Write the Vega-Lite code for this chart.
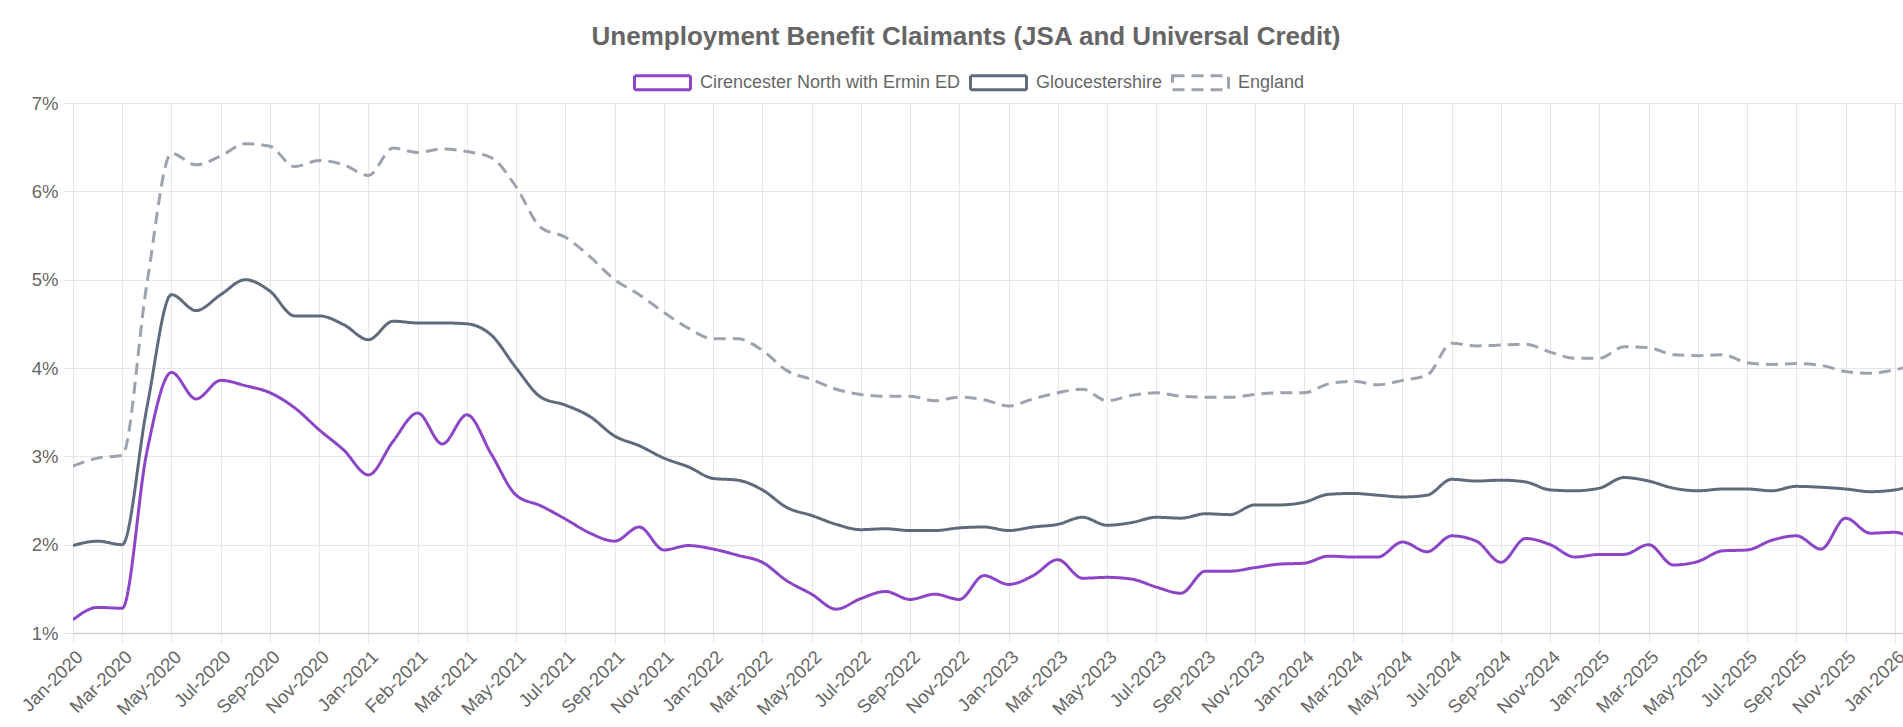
{
  "$schema": "https://vega.github.io/schema/vega-lite/v6.json",
  "width": 1830,
  "height": 530,
  "autosize": "none",
  "padding": {"left": 73, "top": 103, "right": 0, "bottom": 94},
  "background": "white",
  "title": {
    "text": "Unemployment Benefit Claimants (JSA and Universal Credit)",
    "fontSize": 26,
    "font": "Liberation Sans",
    "fontWeight": "bold",
    "color": "#666666",
    "anchor": "middle",
    "dx": -22,
    "offset": 3
  },
  "data": {
    "values": [
      {"month": "Jan-2020", "Cirencester North with Ermin ED": 1.15, "Gloucestershire": 1.99, "England": 2.89},
      {"month": "Feb-2020", "Cirencester North with Ermin ED": 1.29, "Gloucestershire": 2.04, "England": 2.98},
      {"month": "Mar-2020", "Cirencester North with Ermin ED": 1.28, "Gloucestershire": 2.00, "England": 3.01},
      {"month": "Apr-2020", "Cirencester North with Ermin ED": 3.05, "Gloucestershire": 3.55, "England": 4.95},
      {"month": "May-2020", "Cirencester North with Ermin ED": 3.95, "Gloucestershire": 4.83, "England": 6.43},
      {"month": "Jun-2020", "Cirencester North with Ermin ED": 3.65, "Gloucestershire": 4.65, "England": 6.30},
      {"month": "Jul-2020", "Cirencester North with Ermin ED": 3.86, "Gloucestershire": 4.83, "England": 6.40},
      {"month": "Aug-2020", "Cirencester North with Ermin ED": 3.80, "Gloucestershire": 5.00, "England": 6.54},
      {"month": "Sep-2020", "Cirencester North with Ermin ED": 3.72, "Gloucestershire": 4.87, "England": 6.51},
      {"month": "Oct-2020", "Cirencester North with Ermin ED": 3.55, "Gloucestershire": 4.59, "England": 6.28},
      {"month": "Nov-2020", "Cirencester North with Ermin ED": 3.30, "Gloucestershire": 4.59, "England": 6.35},
      {"month": "Dec-2020", "Cirencester North with Ermin ED": 3.07, "Gloucestershire": 4.49, "England": 6.30},
      {"month": "Jan-2021", "Cirencester North with Ermin ED": 2.79, "Gloucestershire": 4.32, "England": 6.18},
      {"month": "Jan-2021 (2)", "Cirencester North with Ermin ED": 3.17, "Gloucestershire": 4.53, "England": 6.49},
      {"month": "Feb-2021", "Cirencester North with Ermin ED": 3.49, "Gloucestershire": 4.51, "England": 6.44},
      {"month": "Feb-2021 (2)", "Cirencester North with Ermin ED": 3.14, "Gloucestershire": 4.51, "England": 6.48},
      {"month": "Mar-2021", "Cirencester North with Ermin ED": 3.47, "Gloucestershire": 4.50, "England": 6.45},
      {"month": "Apr-2021", "Cirencester North with Ermin ED": 3.02, "Gloucestershire": 4.37, "England": 6.38},
      {"month": "May-2021", "Cirencester North with Ermin ED": 2.56, "Gloucestershire": 4.00, "England": 6.05},
      {"month": "Jun-2021", "Cirencester North with Ermin ED": 2.44, "Gloucestershire": 3.67, "England": 5.59},
      {"month": "Jul-2021", "Cirencester North with Ermin ED": 2.29, "Gloucestershire": 3.58, "England": 5.48},
      {"month": "Aug-2021", "Cirencester North with Ermin ED": 2.13, "Gloucestershire": 3.45, "England": 5.26},
      {"month": "Sep-2021", "Cirencester North with Ermin ED": 2.04, "Gloucestershire": 3.23, "England": 5.00},
      {"month": "Oct-2021", "Cirencester North with Ermin ED": 2.20, "Gloucestershire": 3.12, "England": 4.83},
      {"month": "Nov-2021", "Cirencester North with Ermin ED": 1.94, "Gloucestershire": 2.98, "England": 4.63},
      {"month": "Dec-2021", "Cirencester North with Ermin ED": 1.99, "Gloucestershire": 2.88, "England": 4.45},
      {"month": "Jan-2022", "Cirencester North with Ermin ED": 1.95, "Gloucestershire": 2.75, "England": 4.33},
      {"month": "Feb-2022", "Cirencester North with Ermin ED": 1.88, "Gloucestershire": 2.73, "England": 4.33},
      {"month": "Mar-2022", "Cirencester North with Ermin ED": 1.80, "Gloucestershire": 2.62, "England": 4.20},
      {"month": "Apr-2022", "Cirencester North with Ermin ED": 1.59, "Gloucestershire": 2.42, "England": 3.97},
      {"month": "May-2022", "Cirencester North with Ermin ED": 1.44, "Gloucestershire": 2.33, "England": 3.87},
      {"month": "Jun-2022", "Cirencester North with Ermin ED": 1.27, "Gloucestershire": 2.23, "England": 3.76},
      {"month": "Jul-2022", "Cirencester North with Ermin ED": 1.39, "Gloucestershire": 2.17, "England": 3.70},
      {"month": "Aug-2022", "Cirencester North with Ermin ED": 1.47, "Gloucestershire": 2.18, "England": 3.68},
      {"month": "Sep-2022", "Cirencester North with Ermin ED": 1.38, "Gloucestershire": 2.16, "England": 3.68},
      {"month": "Oct-2022", "Cirencester North with Ermin ED": 1.44, "Gloucestershire": 2.16, "England": 3.63},
      {"month": "Nov-2022", "Cirencester North with Ermin ED": 1.38, "Gloucestershire": 2.19, "England": 3.67},
      {"month": "Dec-2022", "Cirencester North with Ermin ED": 1.65, "Gloucestershire": 2.20, "England": 3.64},
      {"month": "Jan-2023", "Cirencester North with Ermin ED": 1.55, "Gloucestershire": 2.16, "England": 3.57},
      {"month": "Feb-2023", "Cirencester North with Ermin ED": 1.65, "Gloucestershire": 2.20, "England": 3.65},
      {"month": "Mar-2023", "Cirencester North with Ermin ED": 1.83, "Gloucestershire": 2.23, "England": 3.72},
      {"month": "Apr-2023", "Cirencester North with Ermin ED": 1.62, "Gloucestershire": 2.31, "England": 3.76},
      {"month": "May-2023", "Cirencester North with Ermin ED": 1.63, "Gloucestershire": 2.22, "England": 3.63},
      {"month": "Jun-2023", "Cirencester North with Ermin ED": 1.61, "Gloucestershire": 2.25, "England": 3.69},
      {"month": "Jul-2023", "Cirencester North with Ermin ED": 1.52, "Gloucestershire": 2.31, "England": 3.72},
      {"month": "Aug-2023", "Cirencester North with Ermin ED": 1.45, "Gloucestershire": 2.30, "England": 3.68},
      {"month": "Sep-2023", "Cirencester North with Ermin ED": 1.70, "Gloucestershire": 2.35, "England": 3.67},
      {"month": "Oct-2023", "Cirencester North with Ermin ED": 1.70, "Gloucestershire": 2.34, "England": 3.67},
      {"month": "Nov-2023", "Cirencester North with Ermin ED": 1.74, "Gloucestershire": 2.45, "England": 3.70},
      {"month": "Dec-2023", "Cirencester North with Ermin ED": 1.78, "Gloucestershire": 2.45, "England": 3.72},
      {"month": "Jan-2024", "Cirencester North with Ermin ED": 1.79, "Gloucestershire": 2.48, "England": 3.72},
      {"month": "Feb-2024", "Cirencester North with Ermin ED": 1.87, "Gloucestershire": 2.57, "England": 3.82},
      {"month": "Mar-2024", "Cirencester North with Ermin ED": 1.86, "Gloucestershire": 2.58, "England": 3.85},
      {"month": "Apr-2024", "Cirencester North with Ermin ED": 1.86, "Gloucestershire": 2.56, "England": 3.81},
      {"month": "May-2024", "Cirencester North with Ermin ED": 2.03, "Gloucestershire": 2.54, "England": 3.86},
      {"month": "Jun-2024", "Cirencester North with Ermin ED": 1.92, "Gloucestershire": 2.56, "England": 3.92},
      {"month": "Jul-2024", "Cirencester North with Ermin ED": 2.10, "Gloucestershire": 2.74, "England": 4.28},
      {"month": "Aug-2024", "Cirencester North with Ermin ED": 2.04, "Gloucestershire": 2.72, "England": 4.25},
      {"month": "Sep-2024", "Cirencester North with Ermin ED": 1.80, "Gloucestershire": 2.73, "England": 4.26},
      {"month": "Oct-2024", "Cirencester North with Ermin ED": 2.07, "Gloucestershire": 2.71, "England": 4.27},
      {"month": "Nov-2024", "Cirencester North with Ermin ED": 2.00, "Gloucestershire": 2.62, "England": 4.18},
      {"month": "Dec-2024", "Cirencester North with Ermin ED": 1.86, "Gloucestershire": 2.61, "England": 4.11},
      {"month": "Jan-2025", "Cirencester North with Ermin ED": 1.89, "Gloucestershire": 2.64, "England": 4.11},
      {"month": "Feb-2025", "Cirencester North with Ermin ED": 1.89, "Gloucestershire": 2.76, "England": 4.24},
      {"month": "Mar-2025", "Cirencester North with Ermin ED": 2.00, "Gloucestershire": 2.72, "England": 4.23},
      {"month": "Apr-2025", "Cirencester North with Ermin ED": 1.77, "Gloucestershire": 2.64, "England": 4.15},
      {"month": "May-2025", "Cirencester North with Ermin ED": 1.81, "Gloucestershire": 2.61, "England": 4.14},
      {"month": "Jun-2025", "Cirencester North with Ermin ED": 1.93, "Gloucestershire": 2.63, "England": 4.15},
      {"month": "Jul-2025", "Cirencester North with Ermin ED": 1.94, "Gloucestershire": 2.63, "England": 4.06},
      {"month": "Aug-2025", "Cirencester North with Ermin ED": 2.05, "Gloucestershire": 2.61, "England": 4.04},
      {"month": "Sep-2025", "Cirencester North with Ermin ED": 2.10, "Gloucestershire": 2.66, "England": 4.05},
      {"month": "Oct-2025", "Cirencester North with Ermin ED": 1.95, "Gloucestershire": 2.65, "England": 4.03},
      {"month": "Nov-2025", "Cirencester North with Ermin ED": 2.30, "Gloucestershire": 2.63, "England": 3.96},
      {"month": "Dec-2025", "Cirencester North with Ermin ED": 2.13, "Gloucestershire": 2.60, "England": 3.94},
      {"month": "Jan-2026", "Cirencester North with Ermin ED": 2.14, "Gloucestershire": 2.62, "England": 3.98},
      {"month": "Feb-2026", "Cirencester North with Ermin ED": 2.00, "Gloucestershire": 2.70, "England": 4.05}
    ]
  },
  "transform": [
    {"fold": ["Cirencester North with Ermin ED", "Gloucestershire", "England"], "as": ["series", "value"]}
  ],
  "mark": {"type": "line", "interpolate": "monotone", "strokeWidth": 3, "clip": true},
  "encoding": {
    "x": {
      "field": "month",
      "type": "ordinal",
      "sort": null,
      "scale": {"type": "point", "padding": 0, "range": [0, 1846.5]},
      "axis": {
        "values": ["Jan-2020", "Mar-2020", "May-2020", "Jul-2020", "Sep-2020", "Nov-2020", "Jan-2021", "Feb-2021", "Mar-2021", "May-2021", "Jul-2021", "Sep-2021", "Nov-2021", "Jan-2022", "Mar-2022", "May-2022", "Jul-2022", "Sep-2022", "Nov-2022", "Jan-2023", "Mar-2023", "May-2023", "Jul-2023", "Sep-2023", "Nov-2023", "Jan-2024", "Mar-2024", "May-2024", "Jul-2024", "Sep-2024", "Nov-2024", "Jan-2025", "Mar-2025", "May-2025", "Jul-2025", "Sep-2025", "Nov-2025", "Jan-2026"],
        "title": null,
        "labelAngle": -45,
        "labelFont": "Liberation Sans",
        "labelFontSize": 18.5,
        "labelColor": "#666666",
        "labelOverlap": false,
        "labelPadding": 4,
        "labelDx": -4,
        "grid": true,
        "gridColor": "#e6e6e6",
        "tickColor": "#e6e6e6",
        "tickSize": 10,
        "domainColor": "#d0d0d0",
        "domainWidth": 1.5
      }
    },
    "y": {
      "field": "value",
      "type": "quantitative",
      "scale": {"domain": [1, 7], "nice": false, "zero": false},
      "axis": {
        "values": [1, 2, 3, 4, 5, 6, 7],
        "labelExpr": "datum.value + '%'",
        "title": null,
        "labelFont": "Liberation Sans",
        "labelFontSize": 18.5,
        "labelColor": "#666666",
        "labelPadding": 5,
        "grid": true,
        "gridColor": "#e6e6e6",
        "tickColor": "#e6e6e6",
        "tickSize": 10,
        "domainColor": "#e6e6e6"
      }
    },
    "color": {
      "field": "series",
      "type": "nominal",
      "scale": {
        "domain": ["Cirencester North with Ermin ED", "Gloucestershire", "England"],
        "range": ["#8b45c6", "#5f6b7c", "#9ca3af"]
      },
      "legend": {
        "orient": "none",
        "legendX": 560,
        "legendY": -50,
        "direction": "horizontal",
        "title": null,
        "symbolType": "M-1,-0.25H1V0.25H-1Z",
        "symbolSize": 3136,
        "symbolStrokeWidth": 3,
        "symbolFillColor": "white",
        "labelFont": "Liberation Sans",
        "labelFontSize": 18,
        "labelColor": "#666666",
        "labelLimit": 500,
        "labelOffset": 8,
        "columnPadding": 3
      }
    },
    "strokeDash": {
      "field": "series",
      "type": "nominal",
      "scale": {
        "domain": ["Cirencester North with Ermin ED", "Gloucestershire", "England"],
        "range": [[1, 0], [1, 0], [12, 7]]
      },
      "legend": {
        "orient": "none",
        "legendX": 560,
        "legendY": -50,
        "direction": "horizontal",
        "title": null,
        "symbolType": "M-1,-0.25H1V0.25H-1Z",
        "symbolSize": 3136,
        "symbolStrokeWidth": 3,
        "symbolFillColor": "white",
        "labelFont": "Liberation Sans",
        "labelFontSize": 18,
        "labelColor": "#666666",
        "labelLimit": 500,
        "labelOffset": 8,
        "columnPadding": 3
      }
    }
  },
  "config": {
    "view": {"stroke": null},
    "font": "Liberation Sans"
  }
}
